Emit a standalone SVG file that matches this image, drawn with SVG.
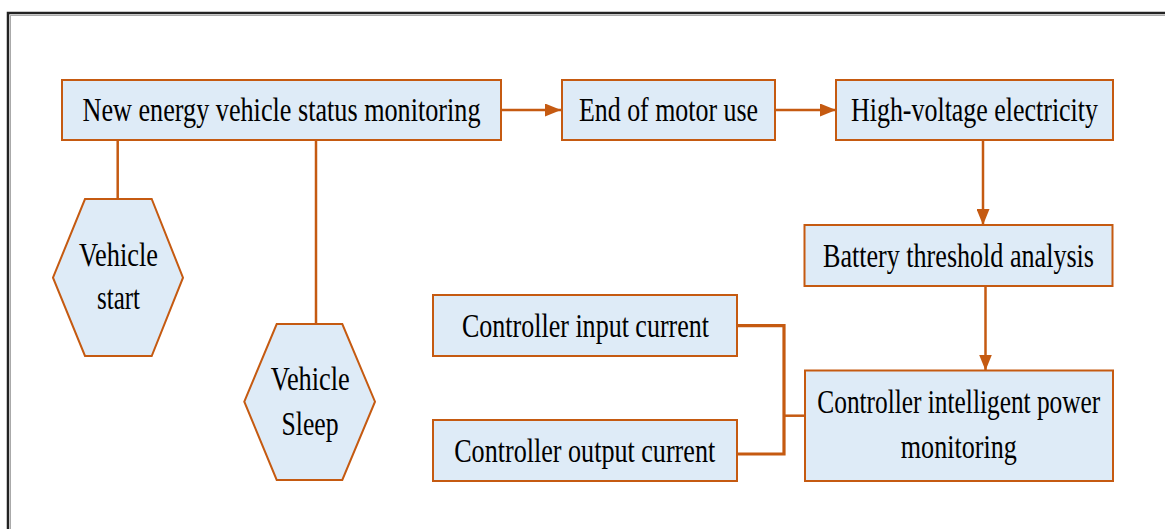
<svg xmlns="http://www.w3.org/2000/svg" width="1165" height="529" viewBox="0 0 1165 529">
<style>
.box{fill:#deebf7;stroke:#c55a11;stroke-width:2}
.t{font-family:"Liberation Serif","Times New Roman",serif;font-size:33px;fill:#000;text-anchor:middle}
.c{fill:none;stroke:#c55a11;stroke-width:2.5}
.thick{stroke-width:3.2}
</style>
<defs>
<marker id="ah" viewBox="0 0 16 13" refX="16" refY="6.5" markerWidth="16" markerHeight="13" markerUnits="userSpaceOnUse" orient="auto">
<path d="M0,0 L16,6.5 L0,13 Z" fill="#c55a11"/>
</marker>
</defs>
<rect x="8" y="13" width="1180" height="540" fill="none" stroke="#222" stroke-width="2.5"/>
<rect x="10.5" y="15.5" width="1180" height="540" fill="none" stroke="#aaa" stroke-width="1"/>

<g id="connectors">
<path class="c" d="M501,110 H561" marker-end="url(#ah)"/>
<path class="c" d="M775,110 H836" marker-end="url(#ah)"/>
<path class="c" d="M983,141 V225" marker-end="url(#ah)"/>
<path class="c" d="M985.5,286 V370.5" marker-end="url(#ah)"/>
<path class="c" d="M117.7,140 V199"/>
<path class="c" d="M316,140 V324"/>
<path class="c thick" d="M737,325.7 H784 V454 H737"/>
<path class="c" d="M784,415.7 H805"/>
</g>

<g id="n1">
<rect class="box" x="62" y="80" width="439" height="60"/>
<text class="t" x="281.5" y="121" textLength="398" lengthAdjust="spacingAndGlyphs">New energy vehicle status monitoring</text>
</g>
<g id="n2">
<rect class="box" x="562" y="80" width="213" height="60"/>
<text class="t" x="668.5" y="121" textLength="179" lengthAdjust="spacingAndGlyphs">End of motor use</text>
</g>
<g id="n3">
<rect class="box" x="836" y="80" width="277" height="60"/>
<text class="t" x="974.5" y="121" textLength="247" lengthAdjust="spacingAndGlyphs">High-voltage electricity</text>
</g>
<g id="n4">
<rect class="box" x="804.5" y="225" width="308" height="61"/>
<text class="t" x="958.5" y="266.5" textLength="271" lengthAdjust="spacingAndGlyphs">Battery threshold analysis</text>
</g>
<g id="n5">
<rect class="box" x="805" y="370.5" width="308" height="110.5"/>
<text class="t" x="958.8" y="413" textLength="283" lengthAdjust="spacingAndGlyphs">Controller intelligent power</text>
<text class="t" x="958.8" y="458" textLength="116" lengthAdjust="spacingAndGlyphs">monitoring</text>
</g>
<g id="n6">
<rect class="box" x="433" y="295" width="304" height="61"/>
<text class="t" x="585.5" y="336.5" textLength="247" lengthAdjust="spacingAndGlyphs">Controller input current</text>
</g>
<g id="n7">
<rect class="box" x="433" y="420" width="304" height="61"/>
<text class="t" x="584.7" y="461.5" textLength="261" lengthAdjust="spacingAndGlyphs">Controller output current</text>
</g>
<g id="h1">
<polygon class="box" points="53,277.7 85,199 151.7,199 183,277.7 151.7,356 85,356"/>
<text class="t" x="118.5" y="266" textLength="79" lengthAdjust="spacingAndGlyphs">Vehicle</text>
<text class="t" x="118.5" y="309" textLength="43" lengthAdjust="spacingAndGlyphs">start</text>
</g>
<g id="h2">
<polygon class="box" points="244.3,401.7 276.7,324 342.3,324 375,401.7 342.3,480 276.7,480"/>
<text class="t" x="310.3" y="390" textLength="79" lengthAdjust="spacingAndGlyphs">Vehicle</text>
<text class="t" x="310" y="435" textLength="57" lengthAdjust="spacingAndGlyphs">Sleep</text>
</g>
</svg>
